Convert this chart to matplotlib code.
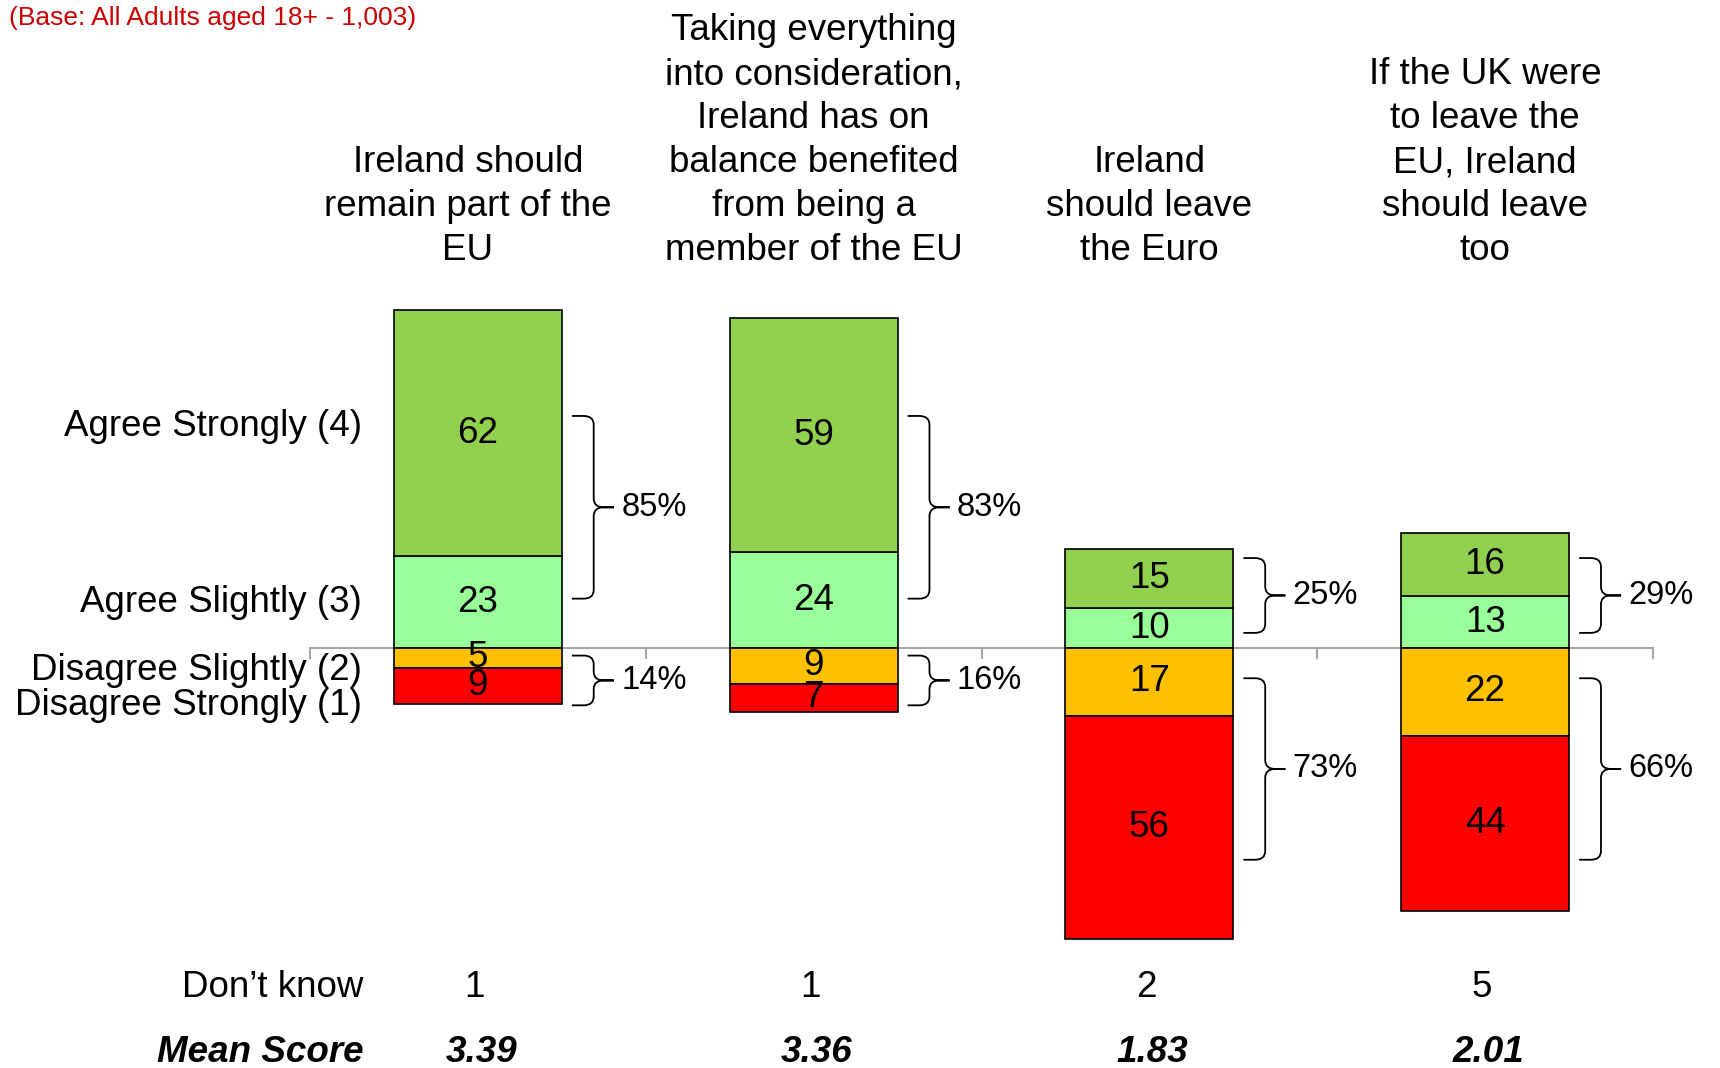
import matplotlib
matplotlib.use("Agg")
import matplotlib.pyplot as plt
from matplotlib.path import Path
from matplotlib.patches import PathPatch
import numpy as np

plt.rcParams['font.family'] = ['Liberation Sans', 'DejaVu Sans']

# ---- data ----
titles = ["Ireland should\nremain part of the\nEU",
          "Taking everything\ninto consideration,\nIreland has on\nbalance benefited\nfrom being a\nmember of the EU",
          "Ireland\nshould leave\nthe Euro",
          "If the UK were\nto leave the\nEU, Ireland\nshould leave\ntoo"]
agree_strongly = [62, 59, 15, 16]
agree_slightly = [23, 24, 10, 13]
disagree_slightly = [5, 9, 17, 22]
disagree_strongly = [9, 7, 56, 44]
dont_know = [1, 1, 2, 5]
mean_score = ["3.39", "3.36", "1.83", "2.01"]
row_labels = ["Agree Strongly (4)", "Agree Slightly (3)",
              "Disagree Slightly (2)", "Disagree Strongly (1)"]
# brace extents (hand placed in the original)
brace_pos = [(12.4, 58.3), (12.4, 58.3), (3.8, 22.6), (3.8, 22.6)]
brace_neg = [(-1.9, -14.4), (-1.9, -14.4), (-7.6, -53.2), (-7.6, -53.2)]

C_AS, C_AL, C_DL, C_DS = "#92D050", "#99FF99", "#FFC000", "#FF0000"

W, H = 1720, 1068
fig = plt.figure(figsize=(W / 100, H / 100), dpi=100)
ax = fig.add_axes([0, 0, 1, 1])
ax.set_axis_off()
# map: x=-0.5 at 310px, x=3.5 at 1653px; y=0 at 648px, 3.98 px per unit
xu = 4 / 1343.0
ax.set_xlim(-0.5 - 310 * xu, 3.5 + (W - 1653) * xu)
ax.set_ylim(-(H - 648) / 3.98, 648 / 3.98)

x = np.arange(len(titles))
bw = 0.5
ek = dict(edgecolor="black", linewidth=1.2, zorder=3)
FS = 26.5

# baseline axis with ticks between categories
ax.plot([-0.5, 3.5], [0, 0], color="#A6A6A6", lw=1.5, zorder=1)
for t in np.arange(-0.5, 3.6, 1.0):
    ax.plot([t, t], [0, -2.6], color="#A6A6A6", lw=1.5, zorder=1)

al = np.array(agree_slightly)
ast = np.array(agree_strongly)
dl = -np.array(disagree_slightly)
ds = -np.array(disagree_strongly)
ax.bar(x, al, bw, color=C_AL, **ek)
ax.bar(x, ast, bw, bottom=al, color=C_AS, **ek)
ax.bar(x, dl, bw, color=C_DL, **ek)
ax.bar(x, ds, bw, bottom=dl, color=C_DS, **ek)

for i in x:
    ax.text(i, al[i] / 2, str(al[i]), ha="center", va="center", fontsize=FS, zorder=4)
    ax.text(i, al[i] + ast[i] / 2, str(ast[i]), ha="center", va="center", fontsize=FS, zorder=4)
    ax.text(i, dl[i] / 2, str(-dl[i]), ha="center", va="center", fontsize=FS, zorder=4)
    ax.text(i, dl[i] + ds[i] / 2, str(-ds[i]), ha="center", va="center", fontsize=FS, zorder=4)


def brace(ax, xe, y0, y1, label):
    x0, xv, xt = xe + 0.03, xe + 0.095, xe + 0.155
    ym = (y0 + y1) / 2
    hi, lo = max(y0, y1), min(y0, y1)
    r = 2.2
    hx = 0.03
    verts = [(x0, hi), (xv - hx, hi), (xv, hi), (xv, hi - r),
             (xv, ym + r), (xv, ym), (xv + hx, ym), (xt, ym),
             (xv + hx, ym), (xv, ym), (xv, ym - r),
             (xv, lo + r), (xv, lo), (xv - hx, lo), (x0, lo)]
    codes = [Path.MOVETO, Path.LINETO, Path.CURVE3, Path.CURVE3,
             Path.LINETO, Path.CURVE3, Path.CURVE3, Path.LINETO,
             Path.LINETO, Path.CURVE3, Path.CURVE3,
             Path.LINETO, Path.CURVE3, Path.CURVE3, Path.LINETO]
    ax.add_patch(PathPatch(Path(verts, codes), fill=False, lw=1.3,
                           edgecolor="black", zorder=4))
    ax.text(xt + 0.022, ym, label, ha="left", va="center", fontsize=23.5)


for i in x:
    brace(ax, i + bw / 2, *brace_pos[i], f"{al[i] + ast[i]}%")
    brace(ax, i + bw / 2, *brace_neg[i], f"{-(dl[i] + ds[i])}%")

# column titles
for i in x:
    ax.text(i - (0.03 if i == 0 else 0), 95.5, titles[i], ha="center", va="bottom",
            fontsize=FS, linespacing=1.33)

# row labels on the left
lx = -0.345
for lab, yy in zip(row_labels, [55.6, 11.5, -5.6, -14.4]):
    ax.text(lx, yy, lab, ha="right", va="center", fontsize=FS)

ax.text(lx + 0.005, -85.3, "Don\u2019t know", ha="right", va="center", fontsize=FS)
ax.text(lx + 0.005, -101.6, "Mean Score", ha="right", va="center", fontsize=FS,
        fontweight="bold", fontstyle="italic")
for i in x:
    ax.text(i - 0.01, -85.3, str(dont_know[i]), ha="center", va="center", fontsize=FS)
    ax.text(i + 0.01, -101.6, mean_score[i], ha="center", va="center", fontsize=FS,
            fontweight="bold", fontstyle="italic")

ax.text(-0.5 - 301 * xu, 158.2, "(Base: All Adults aged 18+ - 1,003)", ha="left",
        va="center", fontsize=19, color="#CC0000")

fig.savefig("out.png", dpi=100)
